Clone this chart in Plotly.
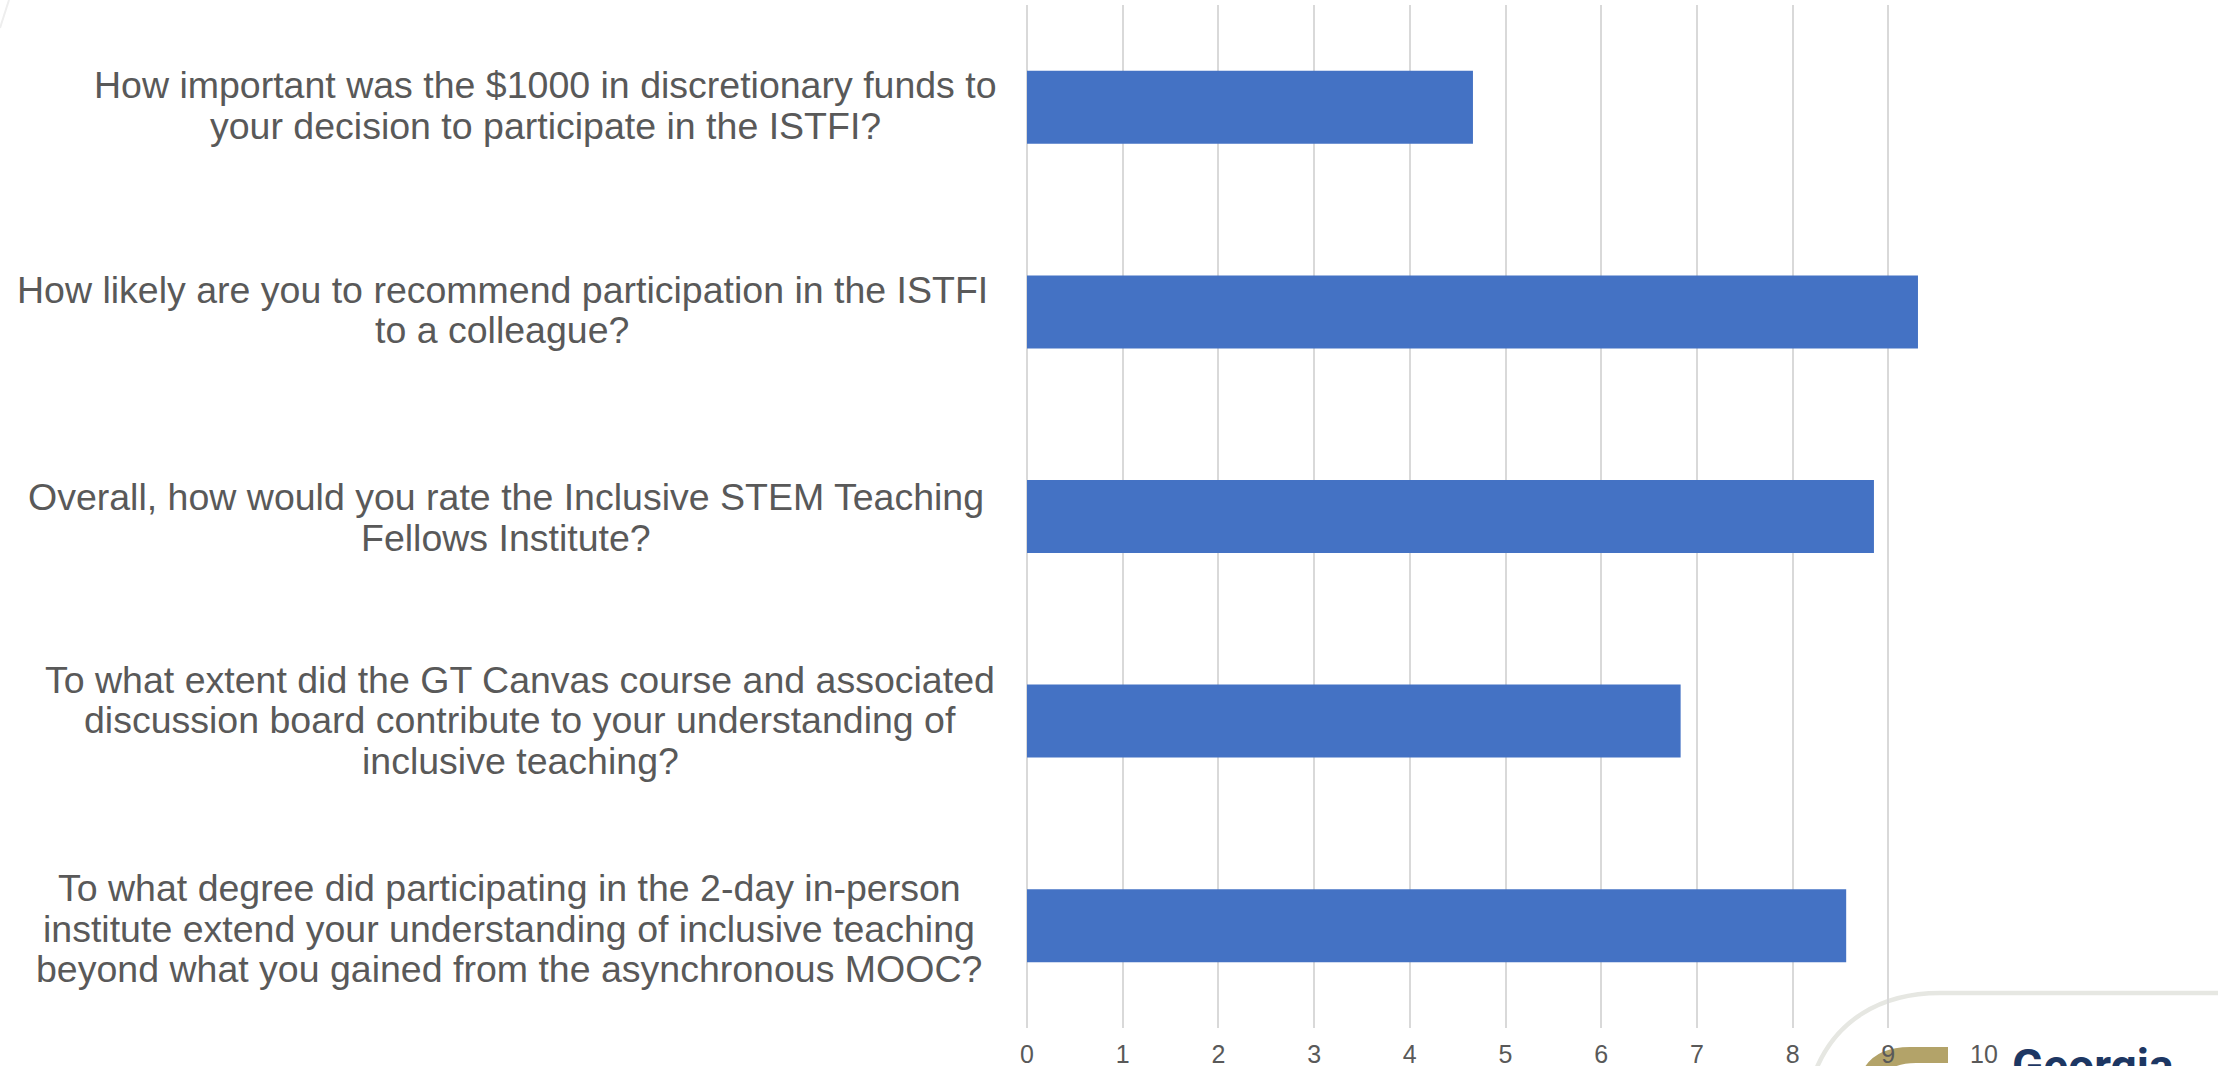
import plotly.graph_objects as go

# ---------------- data ----------------
question_lines = [
    ["How important was the $1000 in discretionary funds to",
     "your decision to participate in the ISTFI?"],
    ["How likely are you to recommend participation in the ISTFI",
     "to a colleague?"],
    ["Overall, how would you rate the Inclusive STEM Teaching",
     "Fellows Institute?"],
    ["To what extent did the GT Canvas course and associated",
     "discussion board contribute to your understanding of",
     "inclusive teaching?"],
    ["To what degree did participating in the 2-day in-person",
     "institute extend your understanding of inclusive teaching",
     "beyond what you gained from the asynchronous MOOC?"],
]
scores = [4.66, 9.31, 8.85, 6.83, 8.56]
x_ticks = [0, 1, 2, 3, 4, 5, 6, 7, 8, 9, 10]

categories = [" ".join(lines) for lines in question_lines]

# ---------------- style / layout ----------------
W, H = 2218, 1066
ML, MR, MT, MB = 1027, 234, 5, 38
PLOT_W = W - ML - MR
PLOT_H = H - MT - MB
BAR_COLOR = "#4472C4"
TEXT_COLOR = "#595959"
GRID_COLOR = "#d9d9d9"
FONT = "Liberation Sans, Arial, sans-serif"
LABEL_SIZE = 37.5
LINE_STEP = 40.5
LABEL_CENTER_PX = [545, 502, 506, 520, 509]
LABEL_YSHIFT = [2, 2, -1, 1, -3]


def px_x(p):
    return (p - ML) / PLOT_W


def px_y(p):
    return (H - MB - p) / PLOT_H


fig = go.Figure()
fig.add_trace(go.Bar(
    x=scores, y=categories, orientation="h",
    marker=dict(color=BAR_COLOR, line=dict(width=0)),
    hoverinfo="x+y",
))

annotations = []
for ci, (cat, lines) in enumerate(zip(categories, question_lines)):
    n = len(lines)
    for li, line in enumerate(lines):
        annotations.append(dict(
            text=line, showarrow=False,
            xref="paper", x=0, xanchor="center",
            xshift=LABEL_CENTER_PX[ci] - ML,
            yref="y", y=cat, yanchor="middle",
            yshift=((n - 1) / 2 - li) * LINE_STEP + LABEL_YSHIFT[ci],
            font=dict(family=FONT, size=LABEL_SIZE, color=TEXT_COLOR),
        ))

# logo wordmark (partially cut off at the bottom edge, as in the slide)
annotations.append(dict(
    text="Georgia", showarrow=False,
    xref="paper", yref="paper",
    x=px_x(2010), y=px_y(1066), xanchor="left", yanchor="middle",
    font=dict(family="Roboto, Liberation Sans, sans-serif", size=46,
              color="#1d3763", weight="bold"),
))

shapes = [
    # decorative light arc of the slide background
    dict(type="path", xref="paper", yref="paper",
         path=(f"M {px_x(2230)},{px_y(993)} L {px_x(1940)},{px_y(993)} "
               f"C {px_x(1880)},{px_y(993)} {px_x(1835)},{px_y(1021)} "
               f"{px_x(1815)},{px_y(1072)}"),
         line=dict(color="#e6e7e2", width=4.5), layer="below"),
    dict(type="path", xref="paper", yref="paper",
         path=f"M {px_x(0)},{px_y(28)} L {px_x(9)},{px_y(0)}",
         line=dict(color="#eeeeee", width=2), layer="below"),
    # gold "G" emblem top
    dict(type="path", xref="paper", yref="paper",
         path=(f"M {px_x(1862)},{px_y(1072)} "
               f"Q {px_x(1874)},{px_y(1047)} {px_x(1910)},{px_y(1047)} "
               f"L {px_x(1948)},{px_y(1047)} L {px_x(1948)},{px_y(1063)} "
               f"L {px_x(1916)},{px_y(1063)} "
               f"Q {px_x(1896)},{px_y(1063)} {px_x(1887)},{px_y(1072)} Z"),
         fillcolor="#b3a369", line=dict(width=0), layer="below"),
]

fig.update_layout(
    width=W, height=H,
    margin=dict(l=ML, r=MR, t=MT, b=MB, pad=0, autoexpand=False),
    paper_bgcolor="white", plot_bgcolor="white",
    showlegend=False,
    bargap=0.643,
    font=dict(family=FONT, color=TEXT_COLOR),
    annotations=annotations,
    shapes=shapes,
    xaxis=dict(
        range=[0, 10], tickmode="array", tickvals=x_ticks,
        ticktext=[str(t) for t in x_ticks],
        showgrid=True, gridcolor=GRID_COLOR, gridwidth=1.5,
        zeroline=True, zerolinecolor=GRID_COLOR, zerolinewidth=1.5,
        showline=False, ticks="",
        tickfont=dict(family=FONT, size=25, color=TEXT_COLOR),
        ticklabelstandoff=9,
        automargin=False,
        fixedrange=True,
    ),
    yaxis=dict(
        categoryorder="array", categoryarray=categories,
        autorange="reversed", showticklabels=False,
        showgrid=False, zeroline=False, showline=False, ticks="",
        automargin=False,
        fixedrange=True,
    ),
)

fig.write_html("out.html",
               config={"displayModeBar": False},
               post_script="document.body.style.margin='0';"
                           "document.body.style.overflow='hidden';")
